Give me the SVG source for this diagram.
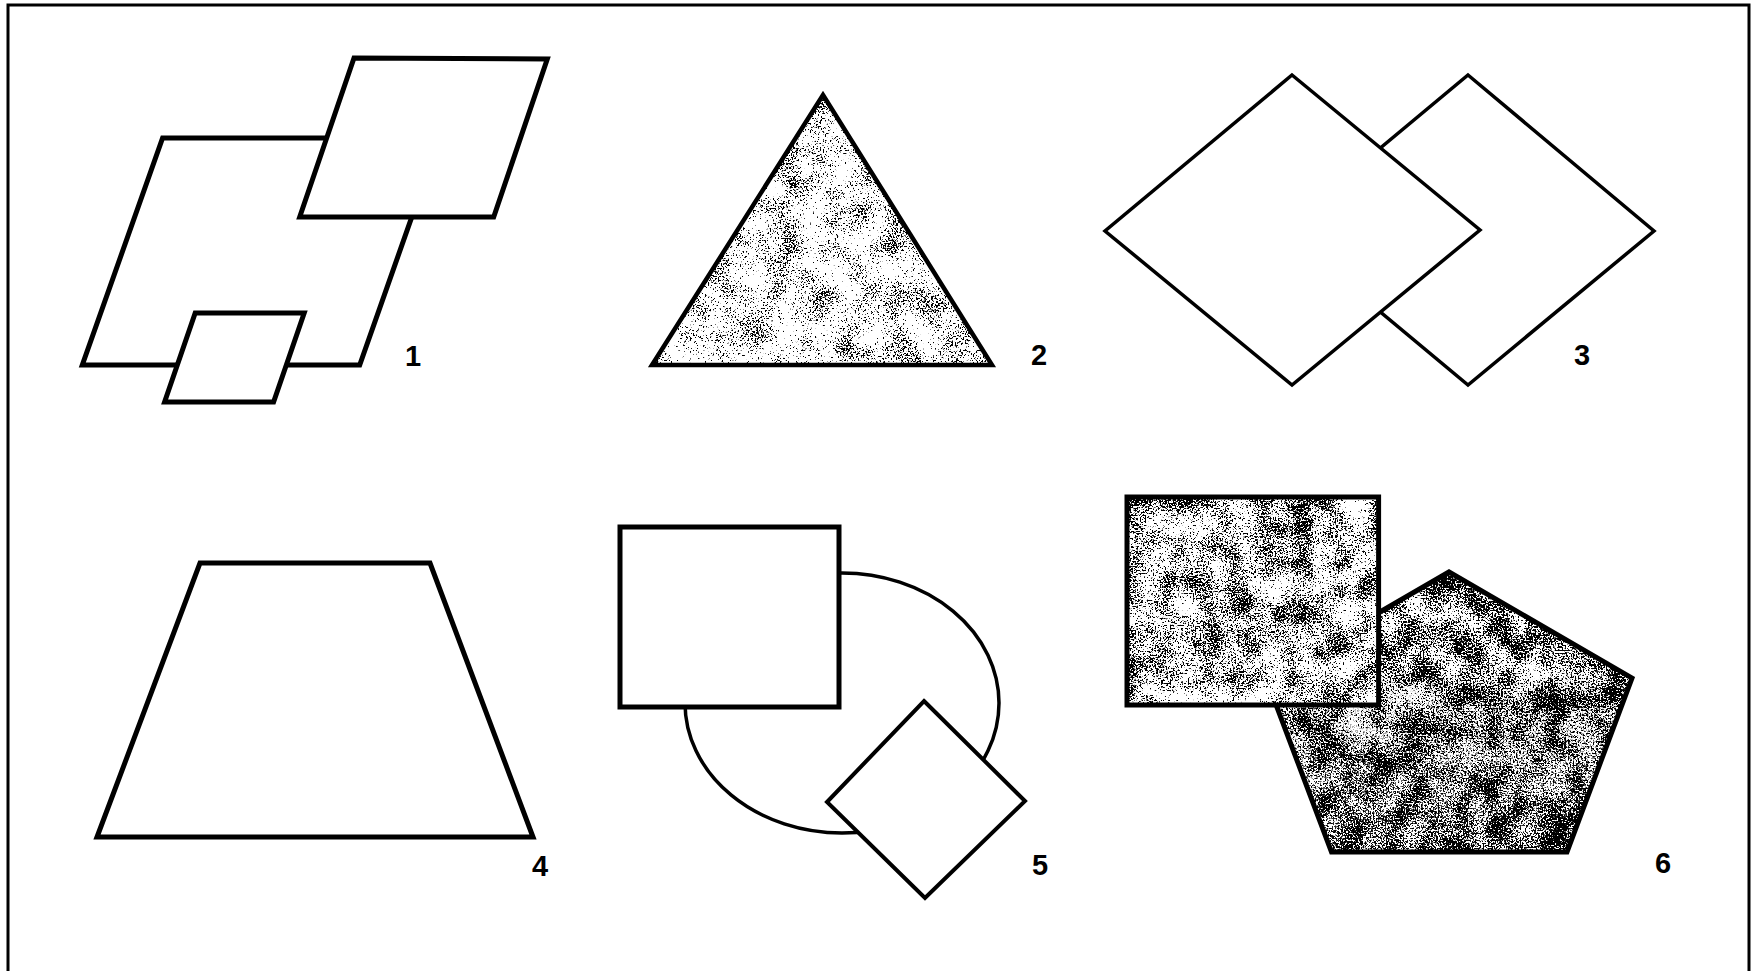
<svg xmlns="http://www.w3.org/2000/svg" width="1754" height="971" viewBox="0 0 1754 971">
  <defs>
    <style>
      .ln { fill: #fff; stroke: #000; stroke-linejoin: miter; }
      .nofill { fill: none; stroke: #000; stroke-linejoin: miter; }
      .dots { fill: #000; stroke: none; }
      .lbl { font-family: "Liberation Sans", Arial, sans-serif; font-weight: bold; font-size: 29px; fill: #000; text-anchor: middle; }
    </style>
    <filter id="stipLight" filterUnits="objectBoundingBox" x="0" y="0" width="1" height="1">
      <feTurbulence type="fractalNoise" baseFrequency="0.6" numOctaves="2" seed="7" result="f0"/>
      <feColorMatrix in="f0" type="matrix" values="1 0 0 0 0  1 0 0 0 0  1 0 0 0 0  0 0 0 0 1" result="fine"/>
      <feTurbulence type="fractalNoise" baseFrequency="0.035" numOctaves="3" seed="3" result="c0"/>
      <feColorMatrix in="c0" type="matrix" values="1 0 0 0 0  1 0 0 0 0  1 0 0 0 0  0 0 0 0 1" result="coarse"/>
      <feComposite in="fine" in2="coarse" operator="arithmetic" k1="0" k2="0.68" k3="0.32" k4="0" result="sum"/>
      <feColorMatrix in="sum" type="matrix" values="0 0 0 0 0  0 0 0 0 0  0 0 0 0 0  25 0 0 0 -14.3"/>
      <feComposite in2="SourceGraphic" operator="in"/>
    </filter>
    <filter id="stipMed" filterUnits="objectBoundingBox" x="0" y="0" width="1" height="1">
      <feTurbulence type="fractalNoise" baseFrequency="0.6" numOctaves="2" seed="11" result="f0"/>
      <feColorMatrix in="f0" type="matrix" values="1 0 0 0 0  1 0 0 0 0  1 0 0 0 0  0 0 0 0 1" result="fine"/>
      <feTurbulence type="fractalNoise" baseFrequency="0.035" numOctaves="3" seed="5" result="c0"/>
      <feColorMatrix in="c0" type="matrix" values="1 0 0 0 0  1 0 0 0 0  1 0 0 0 0  0 0 0 0 1" result="coarse"/>
      <feComposite in="fine" in2="coarse" operator="arithmetic" k1="0" k2="0.62" k3="0.38" k4="0" result="sum"/>
      <feColorMatrix in="sum" type="matrix" values="0 0 0 0 0  0 0 0 0 0  0 0 0 0 0  25 0 0 0 -13.1"/>
      <feComposite in2="SourceGraphic" operator="in"/>
    </filter>
    <filter id="stipDark" filterUnits="objectBoundingBox" x="0" y="0" width="1" height="1">
      <feTurbulence type="fractalNoise" baseFrequency="0.6" numOctaves="2" seed="23" result="f0"/>
      <feColorMatrix in="f0" type="matrix" values="1 0 0 0 0  1 0 0 0 0  1 0 0 0 0  0 0 0 0 1" result="fine"/>
      <feTurbulence type="fractalNoise" baseFrequency="0.035" numOctaves="3" seed="9" result="c0"/>
      <feColorMatrix in="c0" type="matrix" values="1 0 0 0 0  1 0 0 0 0  1 0 0 0 0  0 0 0 0 1" result="coarse"/>
      <feComposite in="fine" in2="coarse" operator="arithmetic" k1="0" k2="0.62" k3="0.38" k4="0" result="sum"/>
      <feColorMatrix in="sum" type="matrix" values="0 0 0 0 0  0 0 0 0 0  0 0 0 0 0  25 0 0 0 -12.3"/>
      <feComposite in2="SourceGraphic" operator="in"/>
    </filter>
    <filter id="stipExtra" filterUnits="objectBoundingBox" x="0" y="0" width="1" height="1">
      <feTurbulence type="fractalNoise" baseFrequency="0.6" numOctaves="2" seed="41" result="f0"/>
      <feColorMatrix in="f0" type="matrix" values="0 0 0 0 0  0 0 0 0 0  0 0 0 0 0  25 0 0 0 -14.2"/>
      <feComposite in2="SourceGraphic" operator="in"/>
    </filter>
    <linearGradient id="pentGrad" x1="0" y1="0" x2="0" y2="1">
      <stop offset="0.35" stop-color="#000" stop-opacity="0"/>
      <stop offset="1" stop-color="#000" stop-opacity="1"/>
    </linearGradient>
  </defs>

  <rect x="0" y="0" width="1754" height="971" fill="#fff"/>

  <g id="frame">
    <path d="M8 971 V5 H1749 V971" fill="none" stroke="#000" stroke-width="3"/>
  </g>

  <g id="fig1">
    <polygon class="ln" stroke-width="5" points="162.6,138 439.6,138 359.7,365 82.3,365"/>
    <polygon class="ln" stroke-width="5" points="354,58 547.3,59 493.7,217 299.7,217"/>
    <polygon class="ln" stroke-width="5" points="195.2,313 304.2,313 273.6,402 164.6,402"/>
    <text class="lbl" x="413" y="366">1</text>
  </g>

  <g id="fig2">
    <polygon fill="#fff" points="823,95 992,365 652,365"/>
    <polygon class="dots" filter="url(#stipLight)" points="823,95 992,365 652,365"/>
    <polygon class="nofill" stroke-width="4.5" points="823,95 992,365 652,365"/>
    <text class="lbl" x="1039" y="365">2</text>
  </g>

  <g id="fig3">
    <polygon class="ln" stroke-width="3.5" points="1468,75 1654,231 1468,385 1282,230"/>
    <polygon class="ln" stroke-width="3.5" points="1292,75 1480,230 1292,385 1105,231"/>
    <text class="lbl" x="1582" y="365">3</text>
  </g>

  <g id="fig4">
    <polygon class="ln" stroke-width="5" points="200,563 430,563 533,837 97,837"/>
    <text class="lbl" x="540" y="876">4</text>
  </g>

  <g id="fig5">
    <ellipse class="ln" stroke-width="3.5" cx="842" cy="703" rx="157" ry="130"/>
    <rect class="ln" stroke-width="5" x="620" y="527" width="219" height="180"/>
    <polygon class="ln" stroke-width="4" points="924,701 1025,801 925,898 827,802"/>
    <text class="lbl" x="1040" y="875">5</text>
  </g>

  <g id="fig6">
    <polygon fill="#fff" points="1449,572 1632,678 1567,852 1331.5,852 1266,678"/>
    <polygon class="dots" filter="url(#stipDark)" points="1449,572 1632,678 1567,852 1331.5,852 1266,678"/>
    <polygon fill="url(#pentGrad)" filter="url(#stipExtra)" points="1449,572 1632,678 1567,852 1331.5,852 1266,678"/>
    <polygon class="nofill" stroke-width="5" points="1449,572 1632,678 1567,852 1331.5,852 1266,678"/>
    <rect fill="#fff" x="1127" y="497" width="251.6" height="208"/>
    <rect class="dots" filter="url(#stipMed)" x="1127" y="497" width="251.6" height="208"/>
    <rect class="nofill" stroke-width="5" x="1127" y="497" width="251.6" height="208"/>
    <text class="lbl" x="1663" y="873">6</text>
  </g>
</svg>
